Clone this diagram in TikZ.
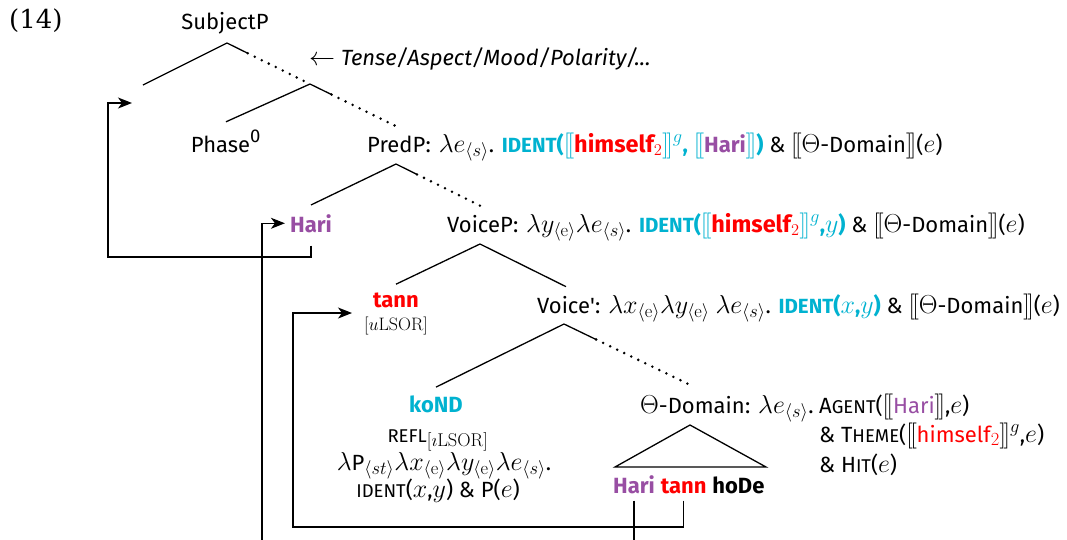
\documentclass[tikz,border=0pt]{standalone}
\usepackage{fix-cm}
\usepackage[no-math]{fontspec}
\setmainfont{Fira Sans}
\newfontfamily\numfont{DejaVu Serif}
\usetikzlibrary{arrows.meta,calc}
\DeclareMathSizes{22}{26}{18.5}{13}
\definecolor{ic}{RGB}{0,178,208}
\definecolor{hp}{RGB}{152,78,163}
\definecolor{hr}{RGB}{255,0,0}
\newcommand{\llb}{[\mkern-1.8mu[}
\newcommand{\rrb}{]\mkern-1.8mu]}
\newcommand{\smc}[1]{{\fontsize{18.5}{20}\selectfont #1}}
\newcommand{\fsc}[2]{#1\smc{#2}}
\newcommand{\idt}{{\bfseries\fontsize{20.5}{22}\selectfont IDENT}}
\newcommand{\himB}{{\fontsize{23.5}{26}\selectfont\bfseries\color{hr}himself$_2$}}
\begin{document}
\begin{tikzpicture}[x=1pt,y=-1pt,
  txt/.style={inner sep=0pt, font=\fontsize{22}{26}\selectfont},
  br/.style={line width=1.3pt},
  dotb/.style={line width=2.8pt, dash pattern=on 0pt off 7.8pt, line cap=round},
  mv/.style={line width=1.3pt, -{Stealth[length=14pt,width=11pt,inset=4pt]}}]
\clip (0,0) rectangle (1067,539);
\fill[white] (0,0) rectangle (1067,539);
% example number
\node[txt, anchor=base west, font=\numfont\fontsize{26}{28}\selectfont] (ex) at (9,28) {(14)};
% top
\node[txt, anchor=base] (subj) at (225,29) {SubjectP};
\coordinate (aS) at (227,43);
\coordinate (spec) at (143,85);
\coordinate (specT) at (132,103);
\coordinate (aX) at (310,84);
\node[txt, anchor=base west] (tam) at (309,65) {$\leftarrow$ \textit{Tense/Aspect/Mood/Polarity/...}};
% phase / predp
\node[txt, anchor=base] (phase) at (226,152) {Phase\textsuperscript{0}};
\node[txt, anchor=base west] (predp) at (367,152) {PredP};
\node[txt, anchor=base west] (predpL) at (predp.base east) {: $\lambda e_{\langle s\rangle}$. \textcolor{ic}{\idt\textbf{(}$\llb$\himB$\rrb^g$\textbf{,} $\llb$\textbf{\textcolor{hp}{Hari}}$\rrb$\textbf{)}} \& $\llb\Theta$-Domain$\rrb$($e$)};
\coordinate (phaseT) at ([yshift=8pt]phase.north);
\coordinate (predpT) at ([yshift=9pt]predp.north);
\coordinate (aP) at (396,164);
% hari / voicep
\node[txt, anchor=base] (hari) at (311,232) {\textbf{\textcolor{hp}{Hari}}};
\node[txt, anchor=base west] (voicep) at (447,232) {VoiceP};
\node[txt, anchor=base west] (voicepL) at (voicep.base east) {: $\lambda y_{\langle\mathrm{e}\rangle}\lambda e_{\langle s\rangle}$. \textcolor{ic}{\idt\textbf{(}$\llb$\himB$\rrb^g$\textbf{,}$y$\textbf{)}} \& $\llb\Theta$-Domain$\rrb$($e$)};
\coordinate (hariT) at ([yshift=9pt]hari.north);
\coordinate (voicepT) at ([yshift=9pt]voicep.north);
\coordinate (aV) at (480,244);
% tann / voice'
\node[txt, anchor=base] (tann) at (396,307) {\textbf{\textcolor{hr}{tann}}};
\node[txt, anchor=base, font=\fontsize{18}{20}\selectfont] (tannF) at (396,330) {$[u\mathrm{LSOR}]$};
\coordinate (tannT) at (352,313);
\node[txt, anchor=base west] (voicebar) at (537,313) {Voice\textquotesingle};
\node[txt, anchor=base west] (voicebarL) at (voicebar.base east) {: $\lambda x_{\langle\mathrm{e}\rangle}\lambda y_{\langle\mathrm{e}\rangle}\ \lambda e_{\langle s\rangle}$. \textcolor{ic}{\idt\textbf{(}$x$\textbf{,}$y$\textbf{)}} \& $\llb\Theta$-Domain$\rrb$($e$)};
\coordinate (tannTop) at ([yshift=8pt]tann.north);
\coordinate (voicebarT) at ([yshift=9pt]voicebar.north);
\coordinate (aVb) at (564,324);
% koND
\node[txt, anchor=base] (kond) at (436,412) {\textbf{\textcolor{ic}{koND}}};
\node[txt, anchor=base] (refl) at (438,442) {\smc{REFL}$_{[\imath\mathrm{LSOR}]}$};
\node[txt, anchor=base] (lamP) at (444,470) {$\lambda$P$_{\langle st\rangle}\lambda x_{\langle\mathrm{e}\rangle}\lambda y_{\langle\mathrm{e}\rangle}\lambda e_{\langle s\rangle}$.};
\node[txt, anchor=base] (idl) at (438,497) {\smc{IDENT}($x$,$y$) \& P($e$)};
\coordinate (kondT) at ([yshift=8pt]kond.north);
% Theta domain
\node[txt, anchor=base west] (theta) at (640,413) {$\Theta$-Domain};
\node[txt, anchor=base west] (thetaL) at (theta.base east) {: $\lambda e_{\langle s\rangle}$.};
\node[txt, anchor=base west] (agent) at (819,413) {\fsc{A}{GENT}($\llb$\textcolor{hp}{Hari}$\rrb$,$e$)};
\node[txt, anchor=base west] (theme) at (819,442) {\& \fsc{T}{HEME}($\llb$\textcolor{hr}{himself$_2$}$\rrb^g$,$e$)};
\node[txt, anchor=base west] (hit) at (819,472) {\& \fsc{H}{IT}($e$)};
\coordinate (thetaT) at ([yshift=9pt]theta.north);
\draw[br] (690,425) -- (615,467) -- (766,467) -- cycle;
\node[txt, anchor=base west] (hariB) at (613,493) {\textbf{\textcolor{hp}{Hari}}};
\node[txt, anchor=base west] (tannB) at ([xshift=5.5pt]hariB.base east) {\textbf{\textcolor{hr}{tann}}};
\node[txt, anchor=base west] (hodeB) at ([xshift=5.5pt]tannB.base east) {\textbf{hoDe}};
% branches
\draw[br] (aS) -- (spec);
\draw[br] (aS) -- ($(aS)!0.25!(aX)$); \draw[dotb] ($(aS)!0.25!(aX)$) -- (aX);
\draw[br] (aX) -- (phaseT);
\draw[br] (aX) -- ($(aX)!0.25!(predpT)$); \draw[dotb] ($(aX)!0.25!(predpT)$) -- (predpT);
\draw[br] (aP) -- (hariT);
\draw[br] (aP) -- ($(aP)!0.25!(voicepT)$); \draw[dotb] ($(aP)!0.25!(voicepT)$) -- (voicepT);
\draw[br] (aV) -- (tannTop);
\draw[br] (aV) -- (voicebarT);
\draw[br] (aVb) -- (kondT);
\draw[br] (aVb) -- ($(aVb)!0.25!(thetaT)$); \draw[dotb] ($(aVb)!0.25!(thetaT)$) -- (thetaT);
% movement arrows
\draw[mv] ([yshift=-13pt]hari.south) |- (108,257) |- (specT);
\draw[mv] ([yshift=-7pt]hariB.south) |- (262,560) |- ([xshift=-5pt]hari.west);
\draw[mv] ([yshift=-7pt]tannB.south) |- (293,527) |- (tannT);
\end{tikzpicture}
\end{document}
